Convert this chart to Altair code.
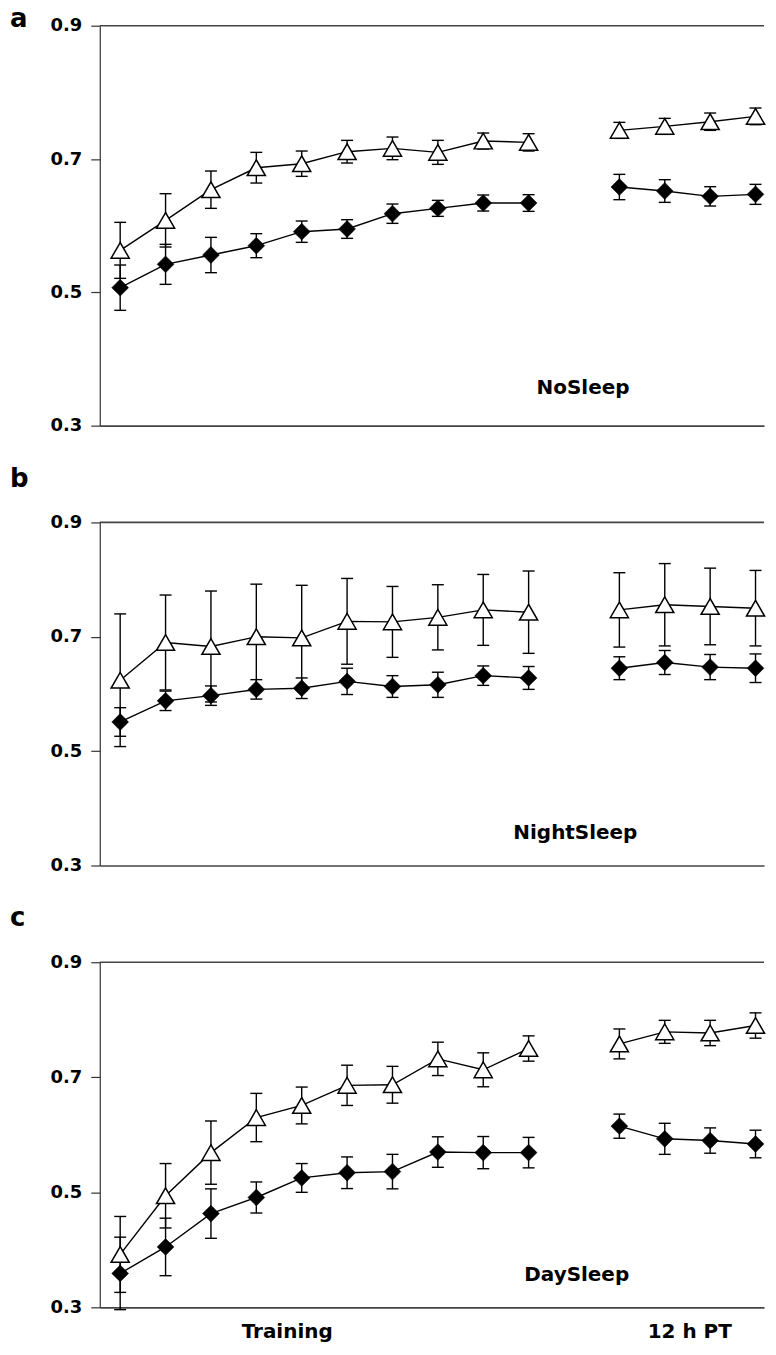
import altair as alt
import pandas as pd

# ---- data ----
x_pos = [1, 2, 3, 4, 5, 6, 7, 8, 9, 10, 12, 13, 14, 15]
segment = ["Training"] * 10 + ["12 h PT"] * 4

nosleep_tri = [0.563, 0.608, 0.654, 0.687, 0.693, 0.711, 0.716, 0.710, 0.727, 0.725, 0.743, 0.749, 0.756, 0.764]
nosleep_tri_err = [0.042, 0.040, 0.028, 0.023, 0.019, 0.017, 0.017, 0.018, 0.012, 0.013, 0.012, 0.012, 0.013, 0.0125]
nosleep_dia = [0.507, 0.542, 0.556, 0.570, 0.591, 0.595, 0.618, 0.626, 0.634, 0.634, 0.658, 0.652, 0.644, 0.647]
nosleep_dia_err = [0.034, 0.030, 0.0265, 0.018, 0.016, 0.014, 0.0145, 0.012, 0.012, 0.0125, 0.019, 0.017, 0.0145, 0.015]

nightsleep_tri = [0.624, 0.690, 0.683, 0.700, 0.698, 0.727, 0.726, 0.734, 0.747, 0.743, 0.747, 0.756, 0.753, 0.750]
nightsleep_tri_err = [0.116, 0.083, 0.097, 0.092, 0.092, 0.075, 0.062, 0.057, 0.062, 0.072, 0.065, 0.072, 0.067, 0.066]
nightsleep_dia = [0.551, 0.588, 0.597, 0.608, 0.610, 0.622, 0.613, 0.616, 0.632, 0.628, 0.645, 0.655, 0.647, 0.645]
nightsleep_dia_err = [0.025, 0.017, 0.017, 0.017, 0.018, 0.023, 0.019, 0.022, 0.017, 0.020, 0.020, 0.021, 0.022, 0.025]

daysleep_tri = [0.392, 0.494, 0.569, 0.630, 0.651, 0.686, 0.687, 0.732, 0.713, 0.750, 0.758, 0.779, 0.777, 0.790]
daysleep_tri_err = [0.066, 0.056, 0.055, 0.042, 0.032, 0.035, 0.032, 0.029, 0.0295, 0.022, 0.026, 0.020, 0.022, 0.022]
daysleep_dia = [0.359, 0.405, 0.463, 0.491, 0.525, 0.534, 0.536, 0.570, 0.569, 0.569, 0.615, 0.593, 0.590, 0.584]
daysleep_dia_err = [0.063, 0.050, 0.043, 0.027, 0.025, 0.0275, 0.030, 0.0265, 0.028, 0.0265, 0.021, 0.027, 0.022, 0.024]

panel_letters = ["a", "b", "c"]
panel_names = ["NoSleep", "NightSleep", "DaySleep"]
panel_name_x = [11.2, 11.03, 11.06]
panel_name_y = 0.357
y_ticks = [0.3, 0.5, 0.7, 0.9]
x_labels = ["Training", "12 h PT"]
x_label_pos = [4.68, 13.55]

# ---- layout ----
W = 666
heights = [401, 344, 346]
letter_offsets = [-20, -56, -57]
FONT = "DejaVu Sans"

xs = alt.Scale(domain=[0.55, 15.187], nice=False, zero=False)
ys = alt.Scale(domain=[0.3, 0.9], nice=False, zero=False)
x_axis = alt.Axis(labels=False, ticks=False, grid=False, title=None,
                  domainColor="#444", domainWidth=1.6)
y_axis = alt.Axis(values=y_ticks, format=".1f", grid=False, title=None,
                  labelFont=FONT, labelFontWeight="bold", labelFontSize=18,
                  labelColor="black", tickColor="#333", domainColor="#333",
                  tickSize=9, labelPadding=9, domainWidth=1.2, tickWidth=1.2)


def X(field):
    return alt.X(field, type="quantitative", scale=xs, axis=x_axis)


def Y(field):
    return alt.Y(field, type="quantitative", scale=ys, axis=y_axis)


def panel(idx, tri, tri_err, dia, dia_err, bottom_labels=False):
    rows = []
    for i, xv in enumerate(x_pos):
        rows.append(dict(x=xv, grp="tri-" + segment[i], series="tri", y=tri[i],
                         lo=tri[i] - tri_err[i], hi=tri[i] + tri_err[i]))
        rows.append(dict(x=xv, grp="dia-" + segment[i], series="dia", y=dia[i],
                         lo=dia[i] - dia_err[i], hi=dia[i] + dia_err[i]))
    df = pd.DataFrame(rows)
    base = alt.Chart(df)
    h = heights[idx]

    top_line = alt.Chart(pd.DataFrame({"y": [0.9]})).mark_rule(
        color="#444", strokeWidth=1.6).encode(
        y=Y("y"), x=alt.value(0), x2=alt.value(W))

    bars = base.mark_rule(color="black", strokeWidth=1.4).encode(
        x=X("x"), y=Y("lo"), y2="hi:Q")
    caps_lo = base.mark_tick(orient="horizontal", size=12, thickness=1.4,
                             color="black", opacity=1).encode(x=X("x"), y=Y("lo"))
    caps_hi = base.mark_tick(orient="horizontal", size=12, thickness=1.4,
                             color="black", opacity=1).encode(x=X("x"), y=Y("hi"))
    lines = base.mark_line(color="black", strokeWidth=1.4).encode(
        x=X("x"), y=Y("y"), detail="grp:N")
    diamonds = base.transform_filter(alt.datum.series == "dia").mark_point(
        shape="diamond", size=285, filled=True, fill="black", stroke="black",
        strokeWidth=0.5, opacity=1).encode(x=X("x"), y=Y("y"))
    triangles = base.transform_filter(alt.datum.series == "tri").mark_point(
        shape="triangle-up", size=330, filled=True, fill="white", stroke="black",
        strokeWidth=1.5, opacity=1).encode(x=X("x"), y=Y("y"))

    name = alt.Chart(pd.DataFrame({"x": [panel_name_x[idx]], "y": [panel_name_y],
                                   "t": [panel_names[idx]]})).mark_text(
        font=FONT, fontWeight="bold", fontSize=20, align="center",
        baseline="middle", color="black").encode(x=X("x"), y=Y("y"), text="t:N")

    letter = alt.Chart(pd.DataFrame({"t": [panel_letters[idx]]})).mark_text(
        font=FONT, fontWeight="bold", fontSize=26, align="left",
        baseline="top", color="black").encode(
        x=alt.value(-90), y=alt.value(letter_offsets[idx]), text="t:N")

    layers = [top_line, bars, caps_lo, caps_hi, lines, diamonds, triangles, name, letter]
    if bottom_labels:
        lab = alt.Chart(pd.DataFrame({"x": x_label_pos, "t": x_labels})).mark_text(
            font=FONT, fontWeight="bold", fontSize=20, align="center",
            baseline="alphabetic", color="black").encode(
            x=X("x"), y=alt.value(h + 31), text="t:N")
        layers.append(lab)
    return alt.layer(*layers).properties(width=W, height=h)


pa = panel(0, nosleep_tri, nosleep_tri_err, nosleep_dia, nosleep_dia_err)
pb = panel(1, nightsleep_tri, nightsleep_tri_err, nightsleep_dia, nightsleep_dia_err)
pc = panel(2, daysleep_tri, daysleep_tri_err, daysleep_dia, daysleep_dia_err, bottom_labels=True)

chart = alt.vconcat(pa, pb, pc, spacing=97, bounds="flush").properties(
    padding={"left": 2, "top": -4, "right": 0, "bottom": 0},
    background="white",
).configure_view(stroke=None)

chart.save("out.html", embed_options={"renderer": "svg", "actions": False})
